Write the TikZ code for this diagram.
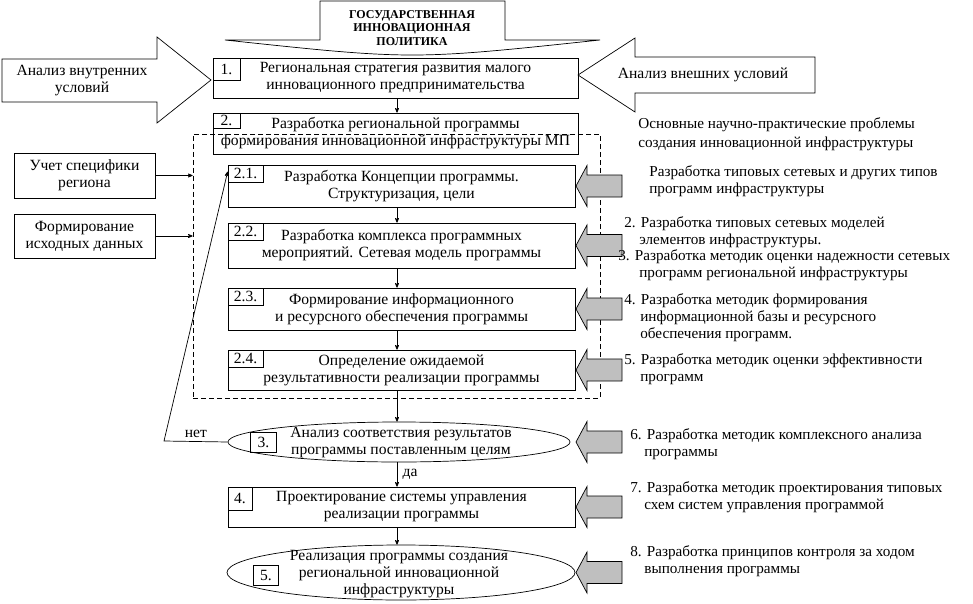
\documentclass[tikz,border=0pt]{standalone}
\usepackage{fontspec}
\setmainfont{Liberation Serif}
\usetikzlibrary{arrows,shapes.geometric}

\begin{document}
\begin{tikzpicture}[x=1pt,y=-1pt,>=stealth',line width=0.7pt,
  every node/.style={font=\fontsize{15.6}{17}\selectfont},
  main box/.style={rectangle,draw,minimum width=347,inner sep=0,align=center},
  num box/.style={rectangle,draw,anchor=north west,inner sep=0,minimum width=35,minimum height=17},
  side box/.style={rectangle,draw,minimum width=141,minimum height=45,inner sep=0,align=center},
  oval/.style={ellipse,draw,inner sep=0},
  note/.style={anchor=west,align=left,inner sep=0,font=\fontsize{15.2}{17}\selectfont},
  big arrow/.style={draw,fill=white},
  gray arrow/.style={draw,fill=gray!50}]
    \useasboundingbox (0,0) rectangle (973,604);
    \coordinate (axis) at (397,0);
    \coordinate (tips) at (576,0);

    % top and side arrows
    \draw[big arrow] (320,1) -- (505,1) -- (505,40) -- (600,40) .. controls (412,60) .. (225,40) -- (320,40) -- cycle;
    \node[font=\fontsize{12}{13.5}\selectfont\bfseries,align=center] (policy) at (412,28) {ГОСУДАРСТВЕННАЯ\\ИННОВАЦИОННАЯ\\ПОЛИТИКА};
    \draw[big arrow] (2,59) -- (157,59) -- (157,37) -- (211,80) -- (157,123) -- (157,102) -- (2,102) -- cycle;
    \node[align=center] (inner) at (82,81) {Анализ внутренних\\условий};
    \draw[big arrow] (578,75) -- (635,38) -- (635,57) -- (815,57) -- (815,93) -- (635,93) -- (635,112) -- cycle;
    \node (outer) at (703,75) {Анализ внешних условий};

    % main chain
    \node[main box,minimum width=365,minimum height=40] (b1) at (395.5,78) {Региональная стратегия развития малого\\инновационного предпринимательства};
    \node[main box,minimum width=365,minimum height=41] (b2) at (395.5,133.5) {Разработка региональной программы\\формирования инновационной инфраструктуры МП};
    \node[draw,dash pattern=on 5pt off 3pt,minimum width=407,minimum height=264,inner sep=0] (frame) at (396.5,266) {};
    \node[main box,minimum height=42] (b21) at (401.5,186) {Разработка Концепции программы.\\Структуризация, цели};
    \node[main box,minimum height=45] (b22) at (401.5,245.5) {Разработка комплекса программных\\мероприятий. Сетевая модель программы};
    \node[main box,minimum height=42] (b23) at (401.5,309) {Формирование информационного\\и ресурсного обеспечения программы};
    \node[main box,minimum height=40] (b24) at (401.5,370) {Определение ожидаемой\\результативности реализации программы};
    \node[oval,minimum width=342,minimum height=40] (b3) at (399,442) {};
    \node[align=center] (b3text) at (401,443) {Анализ соответствия результатов\\программы поставленным целям};
    \node[main box,minimum height=40] (b4) at (401.5,507) {Проектирование системы управления\\реализации программы};
    \node[oval,minimum width=348,minimum height=55] (b5) at (401,572.5) {};
    \node[align=center] (b5text) at (399,574) {Реализация программы создания\\региональной инновационной\\инфраструктуры};

    % numbers
    \node[num box,minimum width=27,minimum height=22] (n1) at (b1.north west) {1.};
    \node[num box,minimum width=27,minimum height=15] (n2) at (b2.north west) {2.};
    \foreach \b/\t in {b21/2.1.,b22/2.2.,b23/2.3.,b24/2.4.}
      \node[num box] (n\b) at (\b.north west) {\t};
    \node[num box,minimum width=26,minimum height=20] (n3) at (250,432) {3.};
    \node[num box,minimum width=24,minimum height=23] (n4) at (b4.north west) {4.};
    \node[num box,minimum width=25,minimum height=20] (n5) at (253,565) {5.};

    % left inputs
    \node[side box] (spec) at (84.5,175.5) {Учет специфики\\региона};
    \node[side box,minimum height=44] (data) at (84.5,236) {Формирование\\исходных данных};
    \draw[->] (spec.east) -- (spec.east -| frame.west);
    \draw[->] (data.east) -- (data.east -| frame.west);

    % flow
    \foreach \a/\b in {b1/b2,b21/b22,b22/b23,b23/b24,b24/b3,b4/b5}
      \draw[->] (\a.south -| axis) -- (\b.north -| axis);
    \draw[->] (b3.south -| axis) -- node[right,xshift=2pt] {да} (b4.north -| axis);
    \coordinate (back) at (164,441);
    \draw[->] (b3.west) -- node[above] {нет} (back) -- ([yshift=-7pt]b21.north west);

    % problems
    \foreach \n in {b21,b22,b23,b24,b3,b4,b5}
      \filldraw[gray arrow] (\n -| tips) -- ++(11,-20.5) -- ++(0,9.5) -- ++(35,0) -- ++(0,22) -- ++(-35,0) -- ++(0,9.5) -- cycle;
    \node[note] (prob) at (638,134) {Основные научно-практические проблемы\\[2pt]создания инновационной инфраструктуры};
    \node[note] (t1) at (649,181) {Разработка типовых сетевых и других типов\\программ инфраструктуры};
    \node[note] (t2) at (624,232) {2. Разработка типовых сетевых моделей\\\hspace*{15pt}элементов инфраструктуры.};
    \node[note] (t3) at (618,265) {3. Разработка методик оценки надежности сетевых\\\hspace*{21pt}программ региональной инфраструктуры};
    \node[note] (t4) at (624,318) {4. Разработка методик формирования\\\hspace*{16pt}информационной базы и ресурсного\\\hspace*{16pt}обеспечения программ.};
    \node[note] (t5) at (624,369) {5. Разработка методик оценки эффективности\\\hspace*{16pt}программ};
    \node[note] (t6) at (630,444) {6. Разработка методик комплексного анализа\\\hspace*{14pt}программы};
    \node[note] (t7) at (630,497) {7. Разработка методик проектирования типовых\\\hspace*{14pt}схем систем управления программой};
    \node[note] (t8) at (630,561) {8. Разработка принципов контроля за ходом\\\hspace*{14pt}выполнения программы};
\end{tikzpicture}
\end{document}
